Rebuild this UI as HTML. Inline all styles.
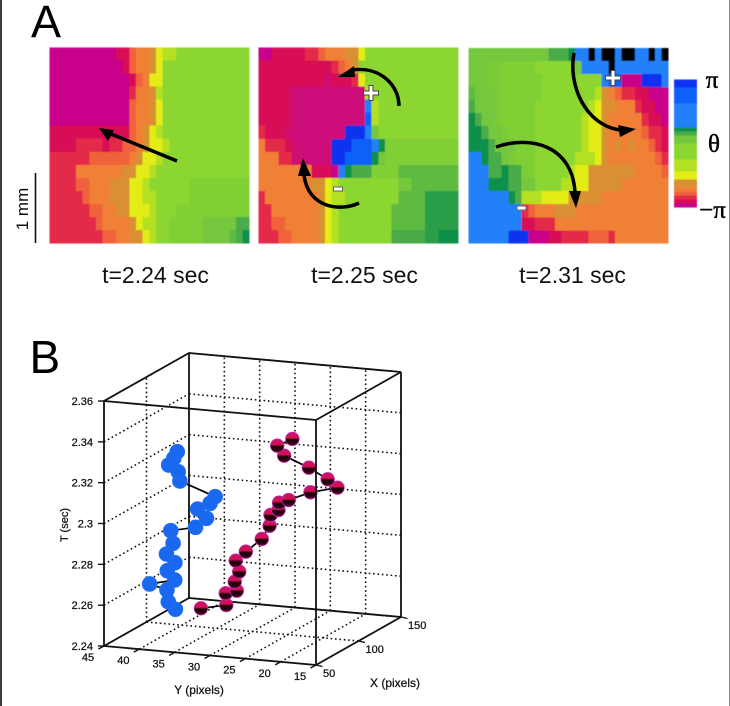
<!DOCTYPE html>
<html>
<head>
<meta charset="utf-8">
<title>Phase maps and singularity trajectories</title>
<style>
html,body{margin:0;padding:0;background:#fff;}
body{width:730px;height:706px;overflow:hidden;}
svg{display:block;}
text{font-family:"Liberation Sans",sans-serif;fill:#111;}
.serif{font-family:"Liberation Serif",serif;fill:#000;stroke:#000;stroke-width:0.45;}
.axislabel{stroke:#111;stroke-width:0.25;}
</style>
</head>
<body>
<svg id="figure" width="730" height="706" viewBox="0 0 730 706" xmlns="http://www.w3.org/2000/svg">
  <defs>
    <linearGradient id="redBall" x1="0" y1="0" x2="0" y2="1">
      <stop offset="0" stop-color="#c81070"/>
      <stop offset="0.42" stop-color="#d41050"/>
      <stop offset="0.56" stop-color="#1a0008"/>
      <stop offset="0.84" stop-color="#300010"/>
      <stop offset="1" stop-color="#901050"/>
    </linearGradient>
    <filter id="soft" x="-2%" y="-2%" width="104%" height="104%">
      <feGaussianBlur stdDeviation="0.55"/>
    </filter>
  </defs>
  <rect x="0" y="0" width="730" height="706" fill="#fff"/>
  <rect x="0" y="0" width="2" height="706" fill="#3a3a3a"/>
  <rect x="729" y="0" width="1" height="706" fill="#8c8c8c"/>

  <text x="31" y="37" font-size="45" style="fill:#000">A</text>
  <text x="29.5" y="373" font-size="46" style="fill:#000">B</text>

  <g id="heat1" filter="url(#soft)"></g>
  <g id="heat2" filter="url(#soft)"></g>
  <g id="heat3" filter="url(#soft)"></g>
  <g id="cbar" filter="url(#soft)"></g>

  <line x1="35.5" y1="173" x2="35.5" y2="243" stroke="#111" stroke-width="1.6"/>
  <text transform="translate(28,209) rotate(-90)" text-anchor="middle" font-size="17">1 mm</text>

  <text x="155.5" y="283" text-anchor="middle" font-size="23">t=2.24 sec</text>
  <text x="364.5" y="283" text-anchor="middle" font-size="23">t=2.25 sec</text>
  <text x="572.5" y="283" text-anchor="middle" font-size="23">t=2.31 sec</text>

  <text class="serif" x="712" y="88" text-anchor="middle" font-size="25">π</text>
  <text class="serif" x="714" y="152" text-anchor="middle" font-size="25">θ</text>
  <text class="serif" x="712.5" y="218" text-anchor="middle" font-size="25">−π</text>

  <!-- wave direction arrow, panel 1 -->
  <g>
    <line x1="177" y1="161" x2="110" y2="133.5" stroke="#000" stroke-width="3.5"/>
    <polygon points="99,128 114,130 108,141" fill="#000"/>
  </g>
  <!-- rotation arrows, panel 2 -->
  <g>
    <path d="M399 106 C399 85 380 66 352 70" fill="none" stroke="#000" stroke-width="3.5"/>
    <polygon points="338,77 354,66 355,77" fill="#000"/>
  </g>
  <g>
    <path d="M359 203 C340 212 308 208 304 175" fill="none" stroke="#000" stroke-width="3.5"/>
    <polygon points="303,158 298,176 311,176" fill="#000"/>
  </g>
  <!-- rotation arrows, panel 3 -->
  <g>
    <path d="M574 53 C568 85 585 125 620 130" fill="none" stroke="#000" stroke-width="3.5"/>
    <polygon points="636,129 618,125 620,137" fill="#000"/>
  </g>
  <g>
    <path d="M496 147 C530 135 572 145 575 192" fill="none" stroke="#000" stroke-width="3.5"/>
    <polygon points="576,208 569,191 581,191" fill="#000"/>
  </g>

  <!-- singularity markers -->
  <g>
    <rect x="369" y="85.5" width="4" height="15" fill="#fff" stroke="#444" stroke-width="1"/>
    <rect x="363.5" y="91" width="15" height="4" fill="#fff" stroke="#444" stroke-width="1"/>
    <rect x="369.5" y="86.5" width="3" height="13" fill="#fff"/>
  </g>
  <rect x="333.5" y="187" width="9" height="4" fill="#fff" stroke="#666" stroke-width="1"/>
  <g>
    <rect x="611" y="70.5" width="4" height="15" fill="#fff" stroke="#444" stroke-width="1"/>
    <rect x="605.5" y="76" width="15" height="4" fill="#fff" stroke="#444" stroke-width="1"/>
    <rect x="611.5" y="71.5" width="3" height="13" fill="#fff"/>
  </g>
  <rect x="517" y="206" width="9" height="4" fill="#fff" stroke="#666" stroke-width="1"/>

  <g id="plot3d"></g>
</svg>

<script>
// Phase colour levels, -pi (0) to +pi (14); 15 = undefined. Fractional values blend neighbours.
const phaseLevels = ["#c8068a","#d80c54","#e42c48","#f0623a","#f08034","#d89030","#e4ec18","#b4e020","#8cd630","#74c83c","#48ac48","#10904c","#2080f8","#1060f8","#0830f0","#000000"];

const panelOneRows = [
[0,0,0,0,0,0,0,0,0,0,1,1,3,4,4,5,6,7,7,8,8,8,8,8,8,8,8,8,8,8],
[0,0,0,0,0,0,0,0,0,0,0,1,3,4,4,5,6,8,8,8,8,8,8,8,8,8,8,8,8,8],
[0,0,0,0,0,0,0,0,0,0,0,0,1,3,4,6,6,8,8,8,8,8,8,8,8,8,8,8,8,8],
[0,0,0,0,0,0,0,0,0,0,0,0,2,4,4,5,7,8,8,8,8,8,8,8,8,8,8,8,8,8],
[0,0,0,0,0,0,0,0,0,0,0,0,3,4,4,5,6,8,8,8,8,8,8,8,8,8,8,8,8,8],
[0,0,0,0,0,0,0,0,0,0,0,0,3,4,4,5,6,8,8,8,8,8,8,8,8,8,8,8,8,8],
[1,1,1,1,1,1,1,1,1,1,1,1,3,4,5,6,7,8,8,8,8,8,8,8,8,8,8,8,8,8],
[1,1,1,1,2,2,2,2,1,2,2,3,3,4,5,6,6,7,8,8,8,8,8,8,8,8,8,8,8,8],
[2,2,2,2,2,2,3,3,3,3,3,3,4,5,6,6,7,8,8,8,8,8,8,8,8,8,8,8,8,8],
[2,2,2,2,4,4,4,4,4,4,4,5,5,6,6,7,8,8,8,8,8,8,8,8,8,8,8,8,8,8],
[2,2,2,2,3,3,4,4,4,5,5,5,6,6,7,8,8,8,8,8,8,8.5,8.5,8.5,8.5,8.5,8.5,8.5,8.5,8.5],
[2,2,2,2,2,3,4,4,4,5,5,5,6,6,7,7,8,8,8,8,8,8.5,8.5,8.5,8.5,8.5,8.5,8.5,8.5,8.5],
[2,2,2,2,2,2,3,3,4,4,5,5,6,6,6,7,8,8,8,8.5,8.5,8.5,8.5,8.5,8.5,8.5,8.5,8.5,8.5,8.5],
[2,2,2,2,2,2,2,3,4,4,4,4,5,6,7,7,8,8,8.5,8.5,8.5,8.5,8.5,9,9,9,9,9,10,10],
[2,2,2,2,2,2,2,2,3,3,4,4,5,5,6,7,8,8,8.5,8.5,8.5,8.5,8.5,9,9,9,9,9.5,10,11]
];

const panelTwoRows = [
[0,0,1,1,1,1,1,2,2,3,4,4,4,5,5,6,8,8,8,8,8,8,8,8,8,8,8,8,8,8],
[1,1,1,1,1,1,1,1,1,1,1,2,3,4,5,8,8,8,8,8,8,8,8,8,8,8,8,8,8,8],
[1,1,1,1,1,1,1,1,1,1,0.5,1,1,1,2,6,8,8,8,8,8,8,8,8,8,8,8,8,8,8],
[1,1,1,1,0.8,0.3,0.3,0.3,0.3,0.3,0.3,0.3,0.3,0.3,0.3,0.3,7,8,8,8,8,8,8,8,8,8,8,8,8,8],
[1,1,1,1,0.8,0.3,0.3,0.3,0.3,0.3,0.3,0.3,0.3,0.3,0.3,0.3,12,7,8,8,8,8,8,8,8,8,8,8,8,8],
[1,1,1,1,0.8,0.3,0.3,0.3,0.3,0.3,0.3,0.3,0.3,0.3,0.3,0.3,13,7,8,8,8,8,8,8,8,8,8,8,8,8],
[2,1,1,1,0.5,0.3,0.3,0.3,0.3,0.3,0.3,0.3,0.3,14,14,14,12,9,8,8,8,8,8,8,8,8,8,8,8,8],
[4,2,2,2,1,0.5,0.3,0.3,0.3,0.3,0.3,14,14,14,13,13,13,12,11,8.5,8.5,8.5,8.5,8.5,8.5,8.5,8.5,8.5,8.5,8.5],
[4,4,4,2,2,0.5,0.3,0.3,0.3,0.3,0.3,14,14,13,13,13,13,11,9,8.5,8.5,8.5,8.5,8.5,8.5,8.5,8.5,8.5,8.5,8.5],
[4,4,4,4,4,4,4,4,1,1,1,0,12,11,10,10,10,8.5,8.5,8.5,8.5,9.5,9.5,9.5,9.5,9.5,9.5,9.5,9.5,9.5],
[4,4,4,4,4,4,4,4,5,5,6,7,8,8,8,8,8,8,8,8,8,9,9,9.5,9.5,9.5,9.5,9.5,9.5,9.5],
[2,4,4,4,4,4,4,4,4,5,6,7,7,8,8,8,8,8,8,8,8,9.5,9.5,9.5,9.5,10.5,10.5,10.5,10.5,10.5],
[2,2,4,4,4,4,4,4,4,5,6,7,8,8,8,8,8,8,8,8,9.5,9.5,9.5,9.5,9.5,10.5,10.5,10.5,10.5,10.5],
[2,2,3,3,4,4,4,4,4,5,6,7,8,8,8,8,8,8,8,8,9.5,9.5,9.5,9.5,9.5,10.5,10.5,10.5,10.5,10.5],
[2,2,2,3,3,4,4,4,4,5,6,7,8,8,8,8,8,8,8,8,10,10,10,10,10,10.5,10.5,11,11,11]
];

const panelThreeRows = [
[9,9,9,9,9,9,9,9,9,9,9,9,10,10,10,11,12,12,15,12,15,15,12,15,15,12,12,15,12,15],
[9,9,9,8.7,8.7,8.5,8.5,8.5,8.5,8.5,8,8,8,8,8,8,9,12,12,12,12,15,12,12,12,12,12,12,12,12],
[9,9,9,8.7,8.7,8.5,8.5,8.5,8.5,8.5,8.5,8,8,8,8,8,8,8,8,8,12,13,13,0,0,0,14,14,14,12],
[9.5,9,9,9,8.7,8.5,8.5,8.5,8.5,8.5,8.5,8,8,8,8,8,8,8,8,7,5,4,3,2,2,1,1,0,0,0],
[10,9,9,9,8.7,8.5,8.5,8.5,8.5,8.5,8,8,8,8,8,8,8,8,7,6,5,5,4,4,4,2,1,1,0,0],
[11,10,9,9,8.7,8.5,8.5,8.5,8.5,8.5,8,8,8,8,8,8,8,7,6,6,5,4,4,4,4,4,2,1,1,0],
[11,11,10,9,9,8.7,8.5,8.5,8.5,8.5,8,8,8,8,8,8,8,7,6,6,5,4,4,4,4,4,3,2,2,1],
[11,11,11,10,9,9,9,8.5,8.5,8.5,8,8,8,8,8,8,8,7,6,6,5,4,5,4,5,4,4,3,2,1],
[12,12,11,10,10,9,8.7,8.5,8.5,8.5,8,8,8,8,8,8,7,7,7,6,5,4,4,4,4,4,4,4,3,2],
[12,12,12,10,10,11,10,10,8.7,8.5,8,8,8,8,8,7,6,6,5,5,5,5,5,5,5,4,4,4,4,3],
[12,12,12,11,11,11,10,10,9,9,8,8,8,8,7,7,6,6,5,5,5,5,5,4,4,4,4,4,4,4],
[12,12,12,12,12,12,11,10,7,7,7,6,6,6,6,5,5,5,5,5,4,4,4,4,4,4,4,4,4,4],
[12,12,12,12,12,12,12,12,2,3,4,4,4,5,5,5,4,4,4,4,4,4,4,4,4,4,4,4,4,4],
[12,12,12,12,12,12,12,12,1,1,2,2,2,4,4,4,4,4,4,4,4,4,4,4,4,4,4,4,4,4],
[12,12,12,12,12,12,14,14,14,0,0,0,1,1,2,2,2,2,3,3,3,2,4,4,4,4,4,4,4,4]
];

const colorbarLevels = [14,14,13,13,13,13,12,12,12,12,12,12,11,10,9,9,8,8,8,8,7,7,7,6,6,5,5,4,3,2,1,0];

// 3-D trajectory data (X pixels, Y pixels, T seconds)
const xTicks = [50,100,150];
const yTicks = [15,20,25,30,35,40,45];
const tTicks = [2.24,2.26,2.28,2.3,2.32,2.34,2.36];
const tTickLabels = ["2.24","2.26","2.28","2.3","2.32","2.34","2.36"];

const redX = [96.7,88.3,91.0,79.0,76.6,76.9,77.8,77.2,84.3,91.0,92.1,84.0,78.9,66.9,66.0,60.3,55.4,54.9,54.1,52.6,48.8];
const redY = [36.9,32.3,32.7,29.7,29.7,29.1,29.7,28.2,26.8,26.5,26.5,24.4,23.7,20.9,17.7,13.2,14.0,16.6,20.0,20.8,18.2];
const redT = [2.25,2.255,2.26,2.265,2.27,2.275,2.28,2.285,2.29,2.295,2.30,2.305,2.31,2.315,2.32,2.325,2.33,2.335,2.34,2.345,2.35];

const blueX = [90.8,84.9,87.5,77.1,70.0,67.1,64.4,60.3,62.3,66.2,57.9,57.5,72.8,66.7,61.1,65.3,63.3,55.4,57.3,51.4];
const blueY = [39.8,40.1,40.6,41.8,37.4,38.1,36.7,37.4,36.7,37.5,33.0,31.4,34.5,32.0,30.6,36.1,36.1,36.5,36.0,34.8];
const blueT = [2.25,2.255,2.26,2.265,2.27,2.275,2.28,2.285,2.29,2.295,2.30,2.305,2.305,2.31,2.315,2.32,2.325,2.33,2.333,2.338];

const NS = "http://www.w3.org/2000/svg";
function mk(tag, parent, attrs) {
  const el = document.createElementNS(NS, tag);
  for (const k in attrs) el.setAttribute(k, attrs[k]);
  parent.appendChild(el);
  return el;
}

function hexRgb(h) {
  return [parseInt(h.slice(1, 3), 16), parseInt(h.slice(3, 5), 16), parseInt(h.slice(5, 7), 16)];
}
function levelColor(v) {
  const lo = Math.floor(v), hi = Math.min(lo + 1, phaseLevels.length - 1), f = v - lo;
  if (f === 0) return phaseLevels[lo];
  const a = hexRgb(phaseLevels[lo]), b = hexRgb(phaseLevels[hi]);
  return "rgb(" + a.map(function (c, i) { return Math.round(c + (b[i] - c) * f); }).join(",") + ")";
}

function drawHeat(id, rows, x0, y0, w, h) {
  const g = document.getElementById(id);
  const cw = w / rows[0].length, ch = h / rows.length;
  rows.forEach(function (row, r) {
    row.forEach(function (lvl, c) {
      const cell = mk("rect", g, {x: x0 + c * cw, y: y0 + r * ch, width: cw + 0.4, height: ch + 0.4, fill: levelColor(lvl), "shape-rendering": "crispEdges"});
      
      
    });
  });
}
drawHeat("heat1", panelOneRows, 49.3, 47.5, 200, 195.5);
drawHeat("heat2", panelTwoRows, 258.3, 47.3, 200, 196);
drawHeat("heat3", panelThreeRows, 468.3, 48, 200, 195.3);

(function () {
  const g = document.getElementById("cbar");
  const top = 79.3, h = 128 / colorbarLevels.length;
  colorbarLevels.forEach(function (lvl, i) {
    const seg = mk("rect", g, {x: 674, y: top + i * h, width: 23, height: h + 0.3, fill: levelColor(lvl), "shape-rendering": "crispEdges"});
    
    
  });
})();

// Orthographic projection of the 3-D box
function project(x, y, t) {
  const a = (x - 50) / 100, b = (y - 15) / 30, c = (t - 2.24) / 0.12;
  return [316 + 85 * a - 212 * b, 665 - 48 * a - 19 * b - 245 * c];
}

(function () {
  const g = document.getElementById("plot3d");
  const X0 = 50, X1 = 150, Y0 = 15, Y1 = 45, T0 = 2.24, T1 = 2.36;

  function seg(p, q, name, style) {
    const a = project(p[0], p[1], p[2]), b = project(q[0], q[1], q[2]);
    const l = mk("line", g, Object.assign({x1: a[0], y1: a[1], x2: b[0], y2: b[1]}, style));
    
    
    return l;
  }
  const dotted = {stroke: "#111", "stroke-width": 1.6, "stroke-dasharray": "1.6 2.8"};
  const solid = {stroke: "#111", "stroke-width": 1.8};

  // grid lines
  tTicks.forEach(function (t) {
    seg([X0, Y1, t], [X1, Y1, t], "grid-line-t-left-wall", dotted);
    seg([X1, Y0, t], [X1, Y1, t], "grid-line-t-back-wall", dotted);
  });
  xTicks.slice(1, -1).forEach(function (x) {
    seg([x, Y1, T0], [x, Y1, T1], "grid-line-x-left-wall", dotted);
    seg([x, Y0, T0], [x, Y1, T0], "grid-line-x-floor", dotted);
  });
  yTicks.slice(1, -1).forEach(function (y) {
    seg([X1, y, T0], [X1, y, T1], "grid-line-y-back-wall", dotted);
    seg([X0, y, T0], [X1, y, T0], "grid-line-y-floor", dotted);
  });

  // back box edges
  seg([X1, Y1, T0], [X1, Y1, T1], "box-edge", solid);
  seg([X1, Y0, T0], [X1, Y0, T1], "box-edge", solid);
  seg([X0, Y1, T0], [X1, Y1, T0], "box-edge", solid);
  seg([X1, Y1, T0], [X1, Y0, T0], "box-edge", solid);
  seg([X0, Y0, T0], [X1, Y0, T0], "box-edge", solid);
  seg([X0, Y1, T1], [X1, Y1, T1], "box-edge", solid);
  seg([X1, Y1, T1], [X1, Y0, T1], "box-edge", solid);
  seg([X0, Y0, T1], [X1, Y0, T1], "box-edge", solid);
  seg([X0, Y0, T0], [X0, Y1, T0], "y-axis-line", solid);
  seg([X0, Y1, T0], [X0, Y1, T1], "t-axis-line", solid);
  seg([X0, Y0, T1], [X0, Y1, T1], "box-edge", solid);

  function trajectory(xs, ys, ts, name, fill, stroke, r) {
    for (let i = 1; i < xs.length; i++) {
      seg([xs[i - 1], ys[i - 1], ts[i - 1]], [xs[i], ys[i], ts[i]], name + "-line", {stroke: "#000", "stroke-width": 1.7});
    }
    xs.forEach(function (x, i) {
      const p = project(x, ys[i], ts[i]);
      const dot = mk("circle", g, {cx: p[0], cy: p[1], r: r, fill: fill, stroke: stroke, "stroke-width": 0.8});
      
      
    });
  }
  trajectory(blueX, blueY, blueT, "blue-trajectory", "#1a68f0", "#2070f0", 7.4);
  trajectory(redX, redY, redT, "red-trajectory", "url(#redBall)", "#c030b0", 6.8);

  // front edge drawn above the markers
  seg([X0, Y0, T0], [X0, Y0, T1], "box-edge-front", solid);

  // ticks and labels
  tTicks.forEach(function (t, i) {
    const p = project(X0, Y1, t);
    const tick = mk("line", g, {x1: p[0] - 6, y1: p[1], x2: p[0], y2: p[1], stroke: "#111", "stroke-width": 1.4});
    
    
    const lab = mk("text", g, {x: p[0] - 11, y: p[1] + 4, "text-anchor": "end", "font-size": 11, class: "axislabel"});
    
    
    lab.textContent = tTickLabels[i];
  });
  yTicks.forEach(function (y) {
    const p = project(X0, y, T0);
    const tick = mk("line", g, {x1: p[0] - 5.5, y1: p[1] + 3, x2: p[0], y2: p[1], stroke: "#111", "stroke-width": 1.4});
    
    
    const lab = mk("text", g, {x: p[0] - 16, y: p[1] + 15, "text-anchor": "middle", "font-size": 11, class: "axislabel"});
    
    
    lab.textContent = String(y);
  });
  xTicks.forEach(function (x) {
    const p = project(x, Y0, T0);
    const tick = mk("line", g, {x1: p[0], y1: p[1], x2: p[0] + 6.5, y2: p[1] + 1.5, stroke: "#111", "stroke-width": 1.4});
    
    
    const lab = mk("text", g, {x: p[0] + 7, y: p[1] + 12, "text-anchor": "start", "font-size": 11, class: "axislabel"});
    
    
    lab.textContent = String(x);
  });

  const yTitle = mk("text", g, {x: 199, y: 694, "text-anchor": "middle", "font-size": 12, class: "axislabel"});
  
  
  yTitle.textContent = "Y (pixels)";

  const xTitle = mk("text", g, {x: 395, y: 687, "text-anchor": "middle", "font-size": 12, class: "axislabel"});
  
  
  xTitle.textContent = "X (pixels)";

  const tTitle = mk("text", g, {transform: "translate(68,525) rotate(-90)", "text-anchor": "middle", "font-size": 11, class: "axislabel"});
  
  
  tTitle.textContent = "T (sec)";
})();
</script>
</body>
</html>
